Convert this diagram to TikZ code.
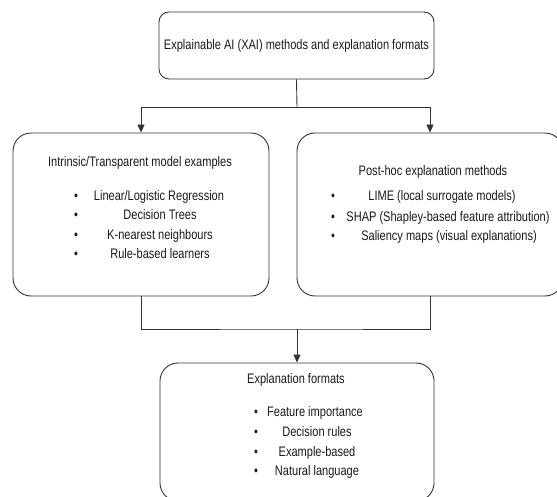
\documentclass[tikz,border=0pt]{standalone}
\usepackage{fontspec}
\setmainfont{Liberation Sans}[FakeStretch=0.8]
\usepackage{tikz}
\usetikzlibrary{arrows.meta}
\definecolor{edge}{HTML}{333333}
\definecolor{ink}{HTML}{1A1A1A}

\begin{document}
\begin{tikzpicture}[
    x=1pt,y=-1pt,
    box/.style={draw=edge,line width=0.9pt,rounded corners=18pt,fill=white},
    topbox/.style={box,rounded corners=10pt},
    txt/.style={text=ink,font=\fontsize{13.8}{16}\selectfont,inner sep=0pt,
                text height=1.6ex,text depth=.45ex},
    dot/.style={txt},
    link/.style={draw=edge,line width=0.9pt},
    arrow/.style={link,-{Triangle[length=8pt,width=7pt]}}
  ]
    \useasboundingbox (0,0) rectangle (557,497);
    % boxes
    \node[topbox,minimum width=275pt,minimum height=67pt] (xai) at (296.5,45.5) {};
    \node[box,minimum width=256pt,minimum height=163pt] (intrinsic) at (141,214.5) {};
    \node[box,minimum width=266pt,minimum height=163pt] (posthoc) at (430,214.5) {};
    \node[box,minimum width=274pt,minimum height=138pt] (formats) at (297,432) {};
    % texts
    \node[txt] (xaititle) at (296.5,46) {Explainable AI (XAI) methods and explanation formats};
    \node[txt] (intitle) at (140,163) {Intrinsic/Transparent model examples};
    \node[txt] (in1) at (159,197) {Linear/Logistic Regression};
    \node[txt] (in2) at (160,216) {Decision Trees};
    \node[txt] (in3) at (160,236) {K-nearest neighbours};
    \node[txt] (in4) at (160,255) {Rule-based learners};
    \foreach \y/\n in {197/1,216/2,236/3,255/4}
      \node[dot] (indot\n) at (76,\y) {\textbullet};
    \node[txt] (phtitle) at (433,172) {Post-hoc explanation methods};
    \node[txt] (ph1) at (442,197) {LIME (local surrogate models)};
    \node[txt] (ph2) at (448,218) {SHAP (Shapley-based feature attribution)};
    \node[txt] (ph3) at (449,237) {Saliency maps (visual explanations)};
    \foreach \y/\n in {197/1,218/2,237/3}
      \node[dot] (phdot\n) at (333,\y) {\textbullet};
    \node[txt] (fmtitle) at (296,380) {Explanation formats};
    \node[txt] (fm1) at (315,413) {Feature importance};
    \node[txt] (fm2) at (317,433) {Decision rules};
    \node[txt] (fm3) at (317,453) {Example-based};
    \node[txt] (fm4) at (317,472) {Natural language};
    \foreach \y/\n in {413/1,433/2,453/3,472/4}
      \node[dot] (fmdot\n) at (256,\y) {\textbullet};
    % connectors
    \coordinate (split) at (297,107);
    \coordinate (merge) at (297,329);
    \draw[link] (xai.south) -- (split);
    \draw[arrow] (split) -| (intrinsic.north);
    \draw[arrow] (split) -| (posthoc.north);
    \draw[link] (intrinsic.south) |- (merge) -| (posthoc.south);
    \draw[arrow] (merge) -- (formats.north);
  \end{tikzpicture}
\end{document}
